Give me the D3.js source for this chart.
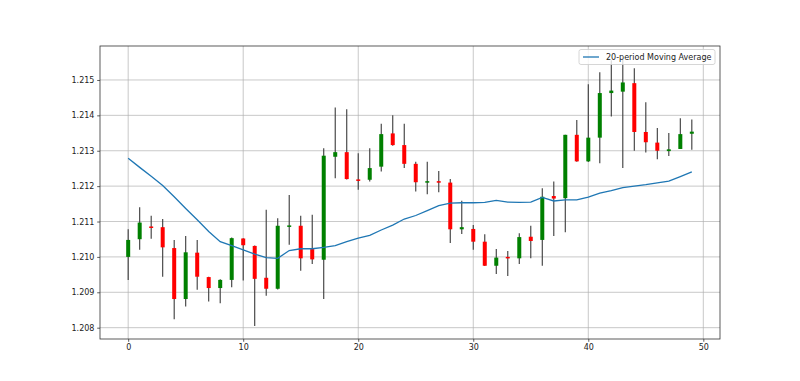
<!DOCTYPE html>
<html>
<head>
<meta charset="utf-8">
<script src="https://cdn.jsdelivr.net/npm/d3@7"></script>
<style>
  html, body { margin: 0; padding: 0; background: #fff; }
  svg { display: block; }
  text { font-family: "DejaVu Sans", sans-serif; }
</style>
</head>
<body>
<svg id="chart" width="800" height="381"></svg>
<script>
const opens  = [1.21000,1.21050,1.21086,1.21084,1.21025,1.20881,1.21012,1.20943,1.20912,1.20935,
                1.21052,1.21031,1.20941,1.20910,1.21086,1.21088,1.21022,1.20992,1.21283,1.21296,
                1.21219,1.21218,1.21255,1.21349,1.21316,1.21263,1.21211,1.21214,1.21210,1.21078,
                1.21079,1.21043,1.20975,1.21000,1.20996,1.21057,1.21048,1.21172,1.21166,1.21345,
                1.21270,1.21337,1.21463,1.21467,1.21491,1.21353,1.21323,1.21299,1.21305,1.21348];
const highs  = [1.21078,1.21140,1.21116,1.21107,1.21048,1.21059,1.21048,1.20944,1.20937,1.21055,
                1.21053,1.21032,1.21133,1.21109,1.21175,1.21116,1.21119,1.21307,1.21422,1.21417,
                1.21293,1.21307,1.21376,1.21400,1.21376,1.21269,1.21269,1.21243,1.21220,1.21159,
                1.21090,1.21064,1.21022,1.21017,1.21067,1.21088,1.21194,1.21213,1.21345,1.21387,
                1.21488,1.21522,1.21556,1.21558,1.21533,1.21437,1.21364,1.21350,1.21392,1.21388];
const lows   = [1.20935,1.21020,1.21051,1.20944,1.20824,1.20860,1.20907,1.20874,1.20869,1.20914,
                1.20933,1.20805,1.20890,1.20908,1.21034,1.20961,1.20980,1.20881,1.21222,1.21219,
                1.21190,1.21213,1.21241,1.21314,1.21251,1.21185,1.21177,1.21183,1.21039,1.21065,
                1.21020,1.20974,1.20952,1.20946,1.20980,1.20996,1.20975,1.21059,1.21070,1.21269,
                1.21268,1.21265,1.21397,1.21251,1.21300,1.21295,1.21276,1.21285,1.21305,1.21303];
const closes = [1.21048,1.21097,1.21083,1.21027,1.20881,1.21013,1.20944,1.20912,1.20935,1.21053,
                1.21033,1.20938,1.20910,1.21088,1.21089,1.20996,1.20993,1.21286,1.21296,1.21220,
                1.21216,1.21251,1.21347,1.21316,1.21263,1.21211,1.21214,1.21211,1.21078,1.21084,
                1.21043,1.20975,1.20998,1.20997,1.21056,1.21045,1.21170,1.21165,1.21345,1.21270,
                1.21337,1.21463,1.21470,1.21493,1.21353,1.21324,1.21300,1.21304,1.21347,1.21354];
const movingAverage = [1.21279,1.21253,1.21228,1.21202,1.21170,1.21137,1.21105,1.21072,1.21043,1.21032,
                       1.21020,1.21008,1.20998,1.20996,1.21018,1.21023,1.21023,1.21027,1.21032,1.21043,
                       1.21053,1.21061,1.21076,1.21090,1.21107,1.21117,1.21131,1.21145,1.21152,1.21153,
                       1.21153,1.21154,1.21160,1.21155,1.21154,1.21155,1.21168,1.21158,1.21161,1.21161,
                       1.21169,1.21180,1.21187,1.21196,1.21200,1.21204,1.21209,1.21214,1.21227,1.21240];
const xTicks = [0, 10, 20, 30, 40, 50];
const yTicks = [1.208, 1.209, 1.210, 1.211, 1.212, 1.213, 1.214, 1.215];
const legendLabel = "20-period Moving Average";

const svg = d3.select("#chart");
const L = 100, R = 720, T = 46, B = 339;
const x = d3.scaleLinear().domain([-2.45, 51.45]).range([L, R]);
const y = d3.scaleLinear().domain([1.20768, 1.21596]).range([B, T]);
const idx = d3.range(opens.length);

// grid
const grid = svg.append("g");
grid.selectAll(".gx").data(xTicks).join("line")
  .attr("x1", d => x(d)).attr("x2", d => x(d)).attr("y1", T).attr("y2", B)
  .attr("stroke", "#b0b0b0").attr("stroke-width", 0.8).attr("opacity", 0.85);
grid.selectAll(".gy").data(yTicks).join("line")
  .attr("x1", L).attr("x2", R).attr("y1", d => y(d)).attr("y2", d => y(d))
  .attr("stroke", "#b0b0b0").attr("stroke-width", 0.8).attr("opacity", 0.85);

// wicks
svg.append("g").selectAll("line").data(idx).join("line")
  .attr("x1", i => x(i)).attr("x2", i => x(i))
  .attr("y1", i => y(highs[i])).attr("y2", i => y(lows[i]))
  .attr("stroke", "#3a3a3a").attr("stroke-width", 1.1);

// bodies
svg.append("g").selectAll("rect").data(idx).join("rect")
  .attr("x", i => x(i) - 2)
  .attr("width", 4)
  .attr("y", i => Math.min(y(opens[i]), y(closes[i])))
  .attr("height", i => Math.max(1.5, Math.abs(y(opens[i]) - y(closes[i]))))
  .attr("fill", i => closes[i] >= opens[i] ? "green" : "red");

// moving average
svg.append("path").datum(idx)
  .attr("d", d3.line().x(i => x(i)).y(i => y(movingAverage[i])))
  .attr("fill", "none").attr("stroke", "#1f77b4").attr("stroke-width", 1.3);

// axes
const ax = svg.append("g").attr("transform", `translate(0,${B})`)
  .call(d3.axisBottom(x).tickValues(xTicks).tickSize(2.8).tickPadding(2.8).tickFormat(d3.format("d")));
const ay = svg.append("g").attr("transform", `translate(${L},0)`)
  .call(d3.axisLeft(y).tickValues(yTicks).tickSize(2.8).tickPadding(2.8).tickFormat(d3.format(".3f")));
[ax, ay].forEach(g => {
  g.select(".domain").remove();
  g.selectAll(".tick line").attr("stroke", "#333").attr("stroke-width", 0.8);
  g.selectAll(".tick text").attr("font-family", "DejaVu Sans").attr("font-size", 8).attr("fill", "#222");
});

// spines
svg.append("rect").attr("x", L).attr("y", T).attr("width", R - L).attr("height", B - T)
  .attr("fill", "none").attr("stroke", "#333").attr("stroke-width", 0.8);

// legend
const lg = svg.append("g");
lg.append("rect").attr("x", 579).attr("y", 49.5).attr("width", 136).attr("height", 15).attr("rx", 2)
  .attr("fill", "#fff").attr("fill-opacity", 0.8).attr("stroke", "#cccccc").attr("stroke-width", 0.8);
lg.append("line").attr("x1", 583).attr("x2", 599).attr("y1", 57).attr("y2", 57)
  .attr("stroke", "#1f77b4").attr("stroke-width", 1.3);
lg.append("text").attr("x", 606).attr("y", 60).attr("font-size", 8).attr("fill", "#222").text(legendLabel);
</script>
</body>
</html>
